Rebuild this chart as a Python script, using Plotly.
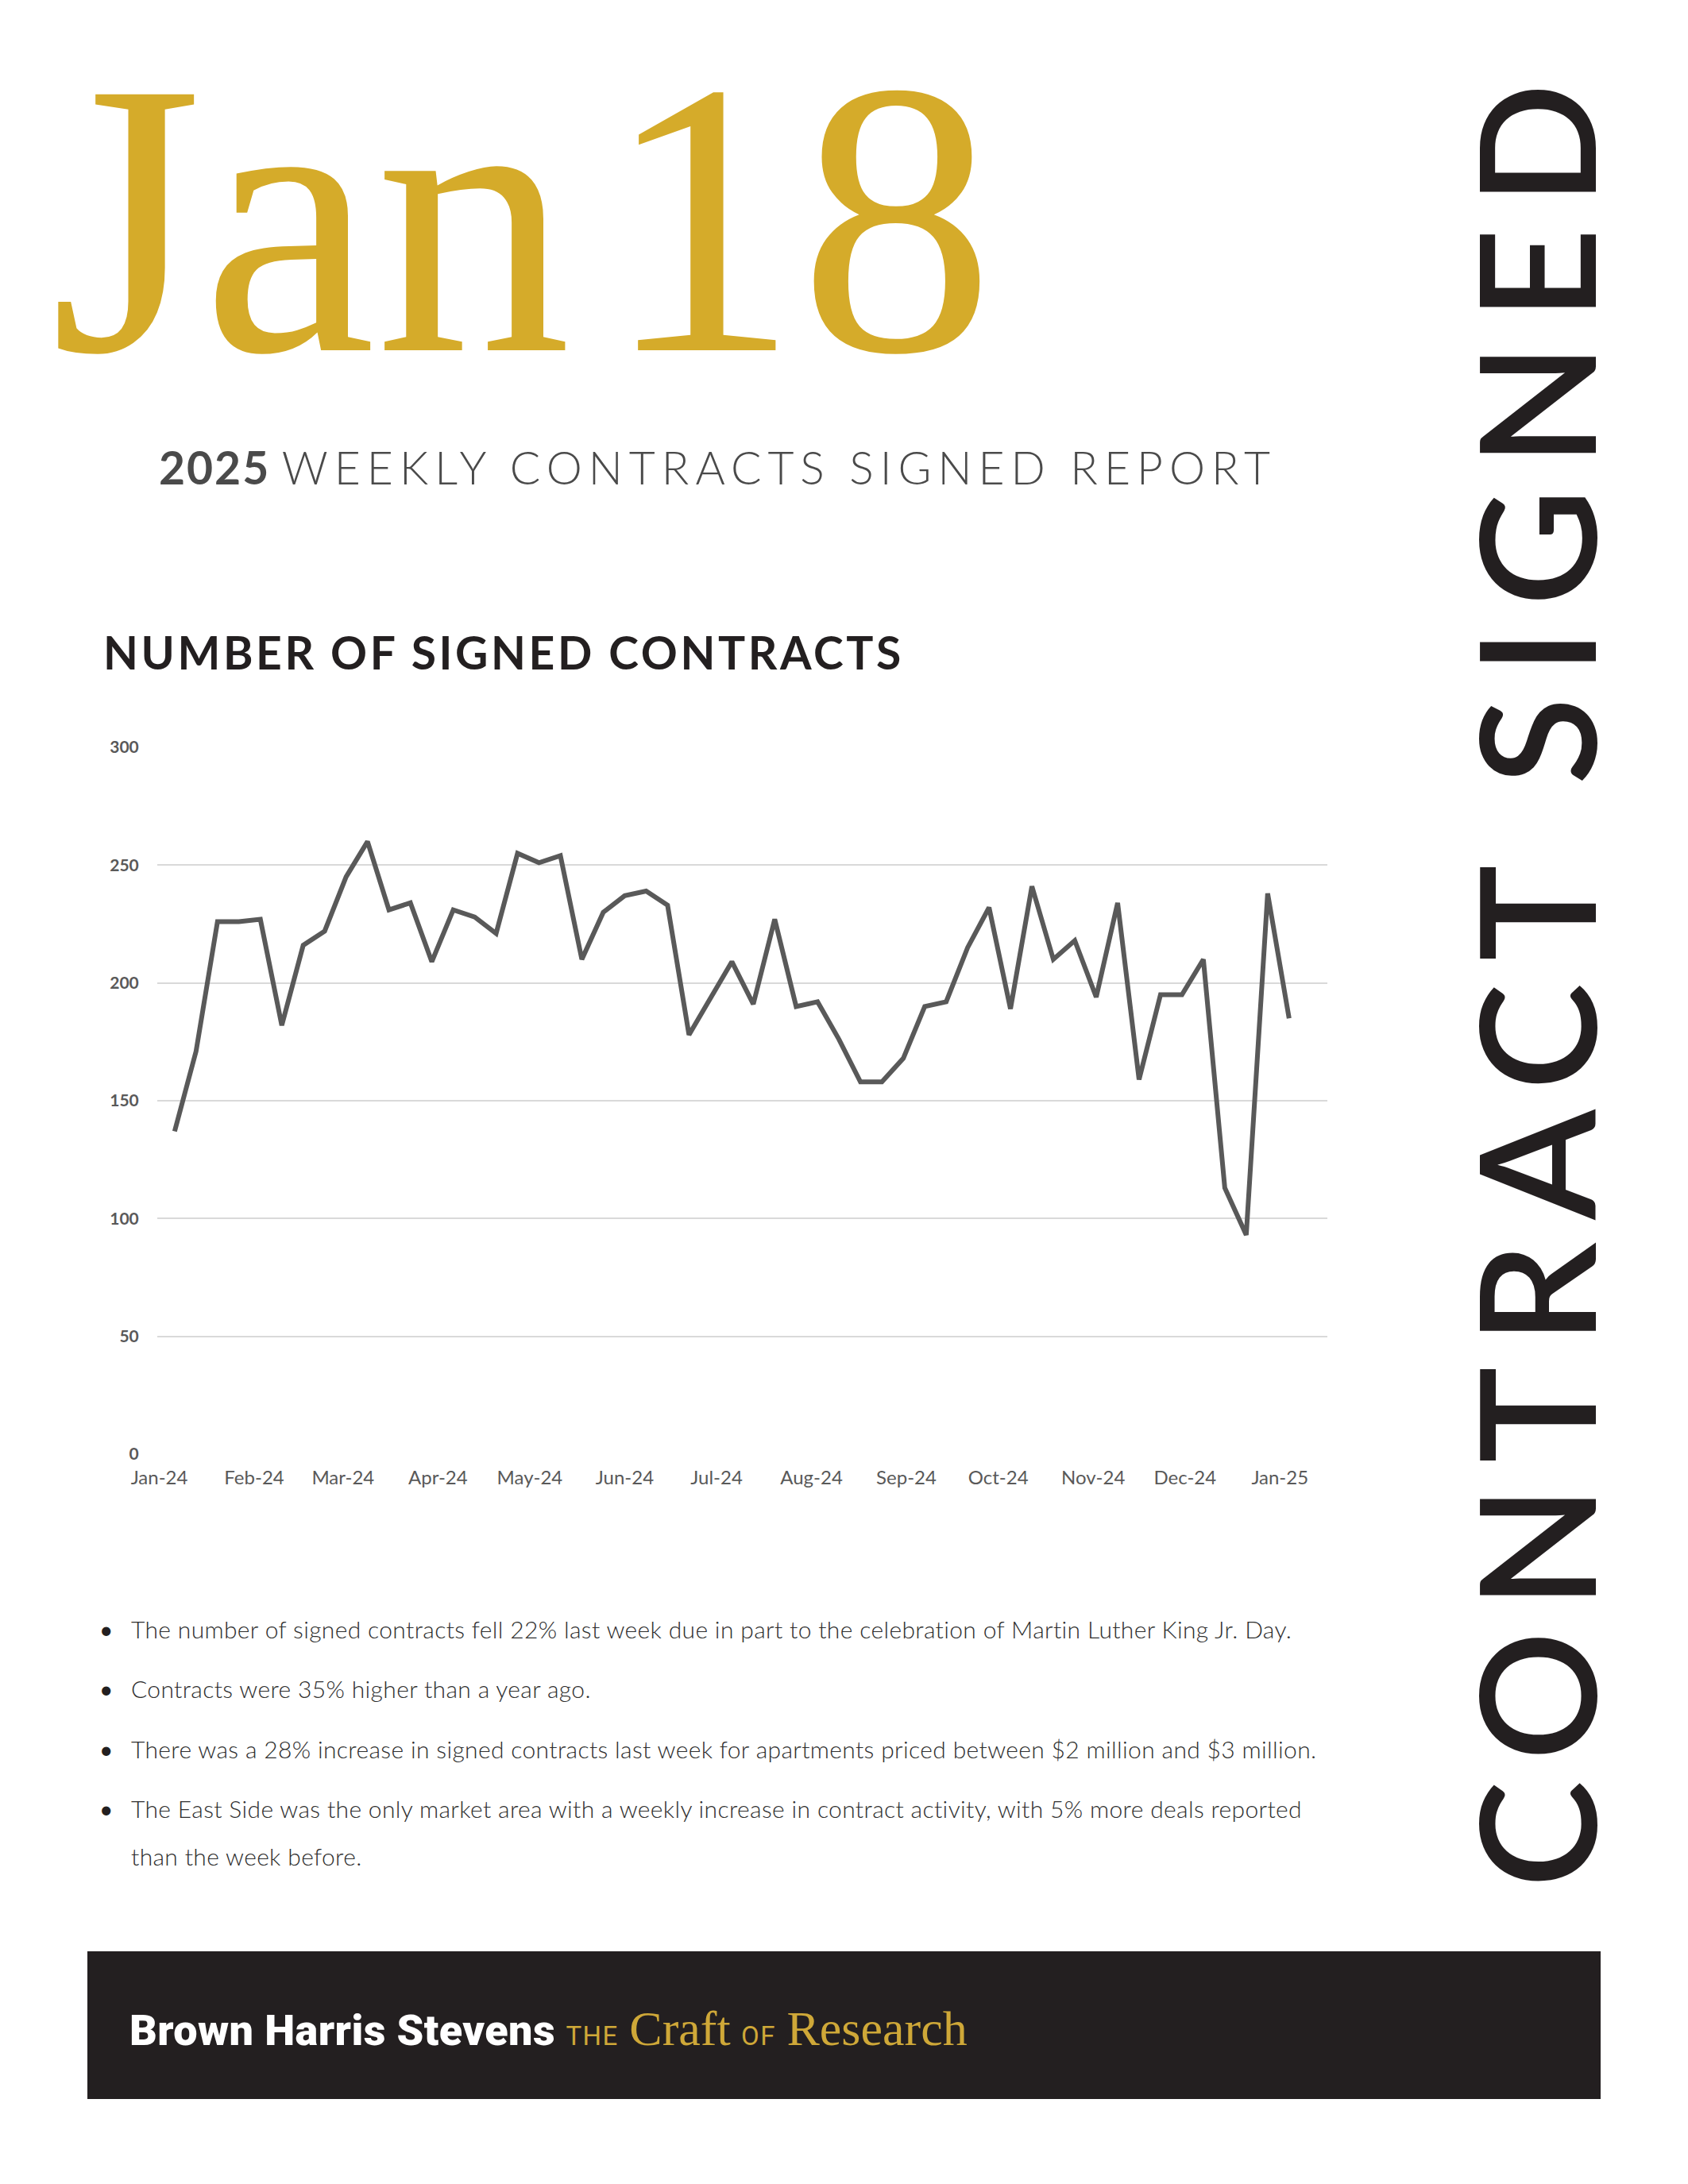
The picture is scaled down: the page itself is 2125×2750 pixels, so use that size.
import plotly.graph_objects as go
import pandas as pd

# ---------------- data ----------------
week_dates = pd.date_range("2024-01-06", periods=53, freq="7D")
contracts = [137, 171, 226, 226, 227, 182, 216, 222, 245, 260,
             231, 234, 209, 231, 228, 221, 255, 251, 254, 210,
             230, 237, 239, 233, 178, 194, 209, 191, 227, 190,
             192, 176, 158, 158, 168, 190, 192, 215, 232, 189,
             241, 210, 218, 194, 234, 159, 195, 195, 210, 113,
             93, 238, 185]
y_ticks = [0, 50, 100, 150, 200, 250, 300]
month_ticks = pd.date_range("2024-01-01", "2025-01-01", freq="MS")
month_labels = [d.strftime("%b-%y") for d in month_ticks]

bullets = [
    "The number of signed contracts fell 22% last week due in part to the celebration of Martin Luther King Jr. Day.",
    "Contracts were 35% higher than a year ago.",
    "There was a 28% increase in signed contracts last week for apartments priced between $2 million and $3 million.",
    "The East Side was the only market area with a weekly increase in contract activity, with 5% more deals reported",
]
bullet_cont = "than the week before."

# ---------------- geometry helpers (page pixels -> paper) ----------------
W, H = 2125, 2750
PL, PR, PT, PB = 198, 1671, 941, 1831


def px(x):
    return (x - PL) / (PR - PL)


def py(y):
    return (PB - y) / (PB - PT)


fig = go.Figure()
fig.add_trace(go.Scatter(
    x=week_dates, y=contracts, mode="lines",
    line=dict(color="#595959", width=6),
    hoverinfo="skip", showlegend=False,
))

GOLD = "#D5AB2A"
FOOT_GOLD = "#CFA838"
BIG = 492
ann = []

# big date
ann.append(dict(
    text="Jan\u200a18",
    x=px(657), y=py(549), xanchor="center", yanchor="bottom",
    font=dict(family="Liberation Serif", size=BIG, color=GOLD),
))
# subtitle
ann.append(dict(
    text='<span style="font-weight:700;letter-spacing:2px">2025</span> '
         '<span style="font-weight:300;letter-spacing:8px">WEEKLY CONTRACTS SIGNED REPORT</span>',
    x=px(198), y=py(588), xanchor="left", yanchor="middle",
    font=dict(family="Lato", size=57, color="#4a4a4a"),
))
# chart title
ann.append(dict(
    text='<span style="letter-spacing:3.6px">NUMBER OF SIGNED CONTRACTS</span>',
    x=px(128), y=py(821), xanchor="left", yanchor="middle",
    font=dict(family="Lato", size=57, color="#231f20", weight=700),
))
# vertical side text
ann.append(dict(
    text='<span style="letter-spacing:28px">CONTRACT SIGNED</span>',
    x=px(1930), y=py(1227), xanchor="center", yanchor="middle",
    textangle=-90,
    font=dict(family="Lato", size=203, color="#231f20", weight=600),
))
# bullets
BODY = dict(family="Lato", size=30, color="#2e2e2e", weight=300)
bullet_y = [2051, 2126, 2202, 2277]
for txt, yy in zip(bullets, bullet_y):
    ann.append(dict(text="•", x=px(123), y=py(yy), xanchor="left", yanchor="middle",
                    font=dict(family="Lato", size=30, color="#231f20")))
    ann.append(dict(text='<span style="letter-spacing:0.35px">' + txt + '</span>',
                    x=px(163), y=py(yy), xanchor="left", yanchor="middle", font=BODY))
ann.append(dict(text='<span style="letter-spacing:0.35px">' + bullet_cont + '</span>',
                x=px(163), y=py(2337), xanchor="left", yanchor="middle", font=BODY))

# footer text
ann.append(dict(
    text='<span style="font-family:Roboto;font-weight:900;font-size:54px;letter-spacing:0.4px;fill:#ffffff">Brown Harris Stevens</span> '
         '<span style="font-family:Roboto;font-size:33px;letter-spacing:1.5px;fill:' + FOOT_GOLD + '">THE</span> '
         '<span style="font-family:Liberation Serif;font-size:62px;fill:' + FOOT_GOLD + '">Craft</span> '
         '<span style="font-family:Roboto;font-size:33px;letter-spacing:1.5px;fill:' + FOOT_GOLD + '">OF</span> '
         '<span style="font-family:Liberation Serif;font-size:62px;fill:' + FOOT_GOLD + '">Research</span>',
    x=px(161), y=py(2554), xanchor="left", yanchor="middle",
    font=dict(family="Roboto", size=54, color="#ffffff"),
))

for a in ann:
    a.update(xref="paper", yref="paper", showarrow=False)

fig.update_layout(
    width=W, height=H,
    margin=dict(l=PL, r=W - PR, t=PT, b=H - PB, pad=0),
    paper_bgcolor="white", plot_bgcolor="white",
    annotations=ann,
    shapes=[dict(type="rect", xref="paper", yref="paper",
                 x0=px(110), x1=px(2015), y0=py(2643), y1=py(2457),
                 fillcolor="#231f20", line=dict(width=0), layer="below")],
    xaxis=dict(
        type="date",
        range=["2023-12-31 08:00", "2025-01-16 12:00"],
        tickvals=month_ticks, ticktext=month_labels,
        showgrid=False, zeroline=False, showline=False,
        ticks="outside", ticklen=8, tickcolor="rgba(0,0,0,0)",
        tickfont=dict(family="Lato", size=24, color="#595959"),
    ),
    yaxis=dict(
        range=[0, 300], tickvals=y_ticks,
        showgrid=True, gridcolor="#d9d9d9", gridwidth=2,
        zeroline=False, showline=False,
        ticks="outside", ticklen=18, tickcolor="rgba(0,0,0,0)",
        tickfont=dict(family="Lato", size=21, color="#595959", weight=700),
    ),
)

fig.write_html("out.html", config={"displayModeBar": False})
